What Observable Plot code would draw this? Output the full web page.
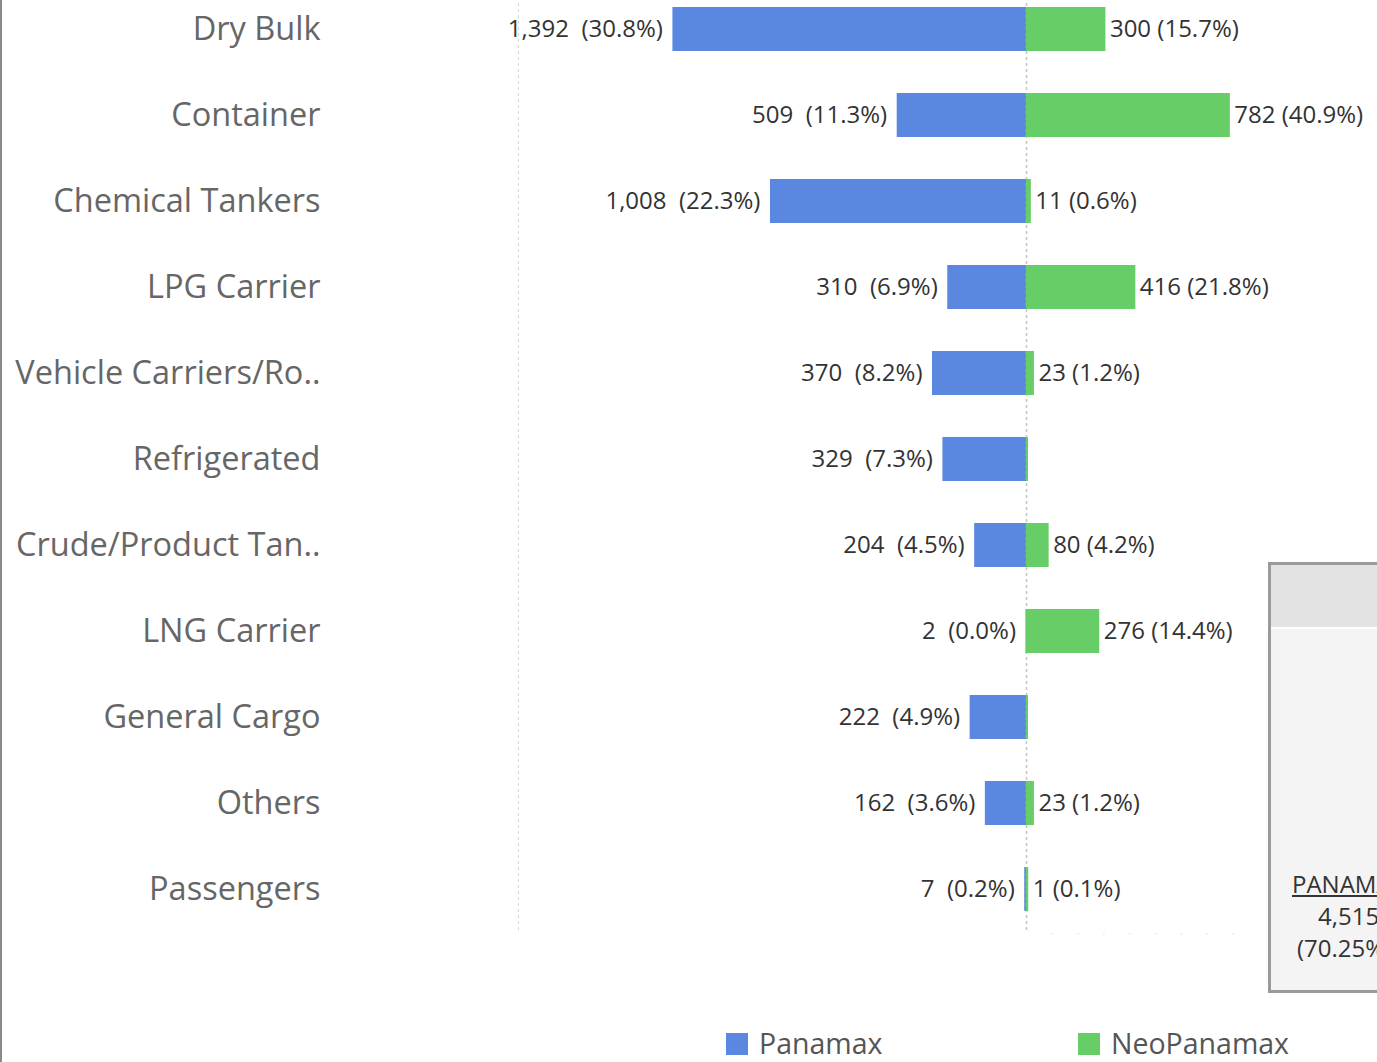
<!DOCTYPE html>
<html>
<head>
<meta charset="utf-8">
<script src="https://cdn.jsdelivr.net/npm/d3@7"></script>
<script src="https://cdn.jsdelivr.net/npm/@observablehq/plot@0.6"></script>
<style>
  html, body { margin: 0; padding: 0; background: #fff; }
  #wrap { position: relative; width: 1377px; height: 1062px; overflow: hidden; font-family: "Open Sans", sans-serif; }
  #left, #right { position: absolute; top: -15px; }
  #left { left: 0; width: 1026px; }
  #right { left: 1020px; }
  #border { position: absolute; left: 0; top: 0; width: 2px; height: 1062px; background: #8a8a8a; }
  #card { position: absolute; left: 1268px; top: 562px; width: 140px; height: 425px; border: 3px solid #9a9a9a; background: #f4f4f4; }
  #cardHead { position: absolute; left: 0; top: 0; right: 0; height: 62px; background: #e3e3e3; border-bottom: 2px solid #fff; }
  .ct { position: absolute; font-size: 24px; color: #333; white-space: nowrap; }
  #legend { position: absolute; top: 1031px; left: 0; width: 1377px; height: 31px; }
  .sw { position: absolute; top: 2px; width: 22px; height: 22px; }
  .lt { position: absolute; top: -7px; font-size: 28.5px; color: #555; white-space: nowrap; }
</style>
</head>
<body>
<div id="wrap">
  <div id="left"></div>
  <div id="right"></div>
  <div id="border"></div>
  <div id="card">
    <div id="cardHead"></div>
    <div class="ct" id="c1" style="left:21px; top:302px; text-decoration: underline;"></div>
    <div class="ct" id="c2" style="left:47px; top:334px;"></div>
    <div class="ct" id="c3" style="left:26px; top:366px;"></div>
  </div>
  <div id="legend"></div>
</div>
<script>
const categories = ["Dry Bulk","Container","Chemical Tankers","LPG Carrier","Vehicle Carriers/Ro..","Refrigerated","Crude/Product Tan..","LNG Carrier","General Cargo","Others","Passengers"];
const panamax = [1392, 509, 1008, 310, 370, 329, 204, 2, 222, 162, 7];
const panamaxPct = ["30.8%","11.3%","22.3%","6.9%","8.2%","7.3%","4.5%","0.0%","4.9%","3.6%","0.2%"];
const neoPanamax = [300, 782, 11, 416, 23, 0, 80, 276, 0, 23, 1];
const neoPanamaxPct = ["15.7%","40.9%","0.6%","21.8%","1.2%",null,"4.2%","14.4%",null,"1.2%","0.1%"];
const seriesNames = ["Panamax", "NeoPanamax"];
const colors = ["#5a87e0", "#67cd67"];
const totalLabel = "PANAMAX";
const totalValue = 4515;
const totalPct = "70.25%";

const fmt = d3.format(",");
const leftData = categories.map((c, i) => ({cat: c, v: panamax[i], label: `${fmt(panamax[i])}\u00a0\u00a0(${panamaxPct[i]})`}));
const rightData = categories.map((c, i) => ({cat: c, v: neoPanamax[i], label: neoPanamaxPct[i] == null ? null : `${fmt(neoPanamax[i])} (${neoPanamaxPct[i]})`}));

const H = 948;
const yOpts = {domain: categories, paddingInner: 0.49, paddingOuter: 0.245};
const font = "'Open Sans', sans-serif";

const gridPlot = Plot.plot({
  width: 1026, height: H + 10,
  marginLeft: 330, marginRight: 0, marginTop: 0, marginBottom: 10,
  style: {background: "transparent"},
  x: {domain: [2740, 0], axis: null},
  y: {...yOpts, axis: null},
  marks: [Plot.gridX([2000], {stroke: "#d6d6d6", strokeOpacity: 1, strokeDasharray: "3,3"})]
});
gridPlot.style.position = "absolute";
gridPlot.style.left = "0";
gridPlot.style.top = "0";
document.getElementById("left").appendChild(gridPlot);

const leftPlot = Plot.plot({
  width: 1026, height: H + 10,
  marginLeft: 330, marginRight: 0, marginTop: 0, marginBottom: 10,
  style: {fontFamily: font, background: "transparent", overflow: "visible"},
  x: {domain: [2740, 0], axis: null},
  y: {...yOpts, axis: null},
  marks: [
    Plot.barX(leftData, {x: "v", y: "cat", fill: colors[0]}),
    Plot.text(leftData, {x: "v", y: "cat", text: "label", textAnchor: "end", dx: -10, fontSize: 24, fill: "#333"}),
    Plot.axisY({tickSize: 0, tickPadding: 10, fontSize: 32.5, color: "#666", label: null})
  ]
});
leftPlot.style.position = "relative";
document.getElementById("left").appendChild(leftPlot);

const rightPlot = Plot.plot({
  width: 357, height: H + 10,
  marginLeft: 6, marginRight: 0, marginTop: 0, marginBottom: 10,
  style: {fontFamily: font, background: "transparent", overflow: "visible"},
  x: {domain: [0, 1360], axis: null},
  y: {...yOpts, axis: null},
  marks: [
    Plot.ruleX([0], {stroke: "#c4c4c4", strokeWidth: 1.5, strokeDasharray: "3,3"}),
    Plot.barX(rightData, {x: "v", y: "cat", fill: colors[1], insetRight: -2}),
    Plot.text(rightData.filter(d => d.label), {x: "v", y: "cat", text: "label", textAnchor: "start", dx: 6, fontSize: 24, fill: "#333"}),
    Plot.axisX({anchor: "bottom", ticks: d3.range(100, 900, 100), tickSize: 1.5, tickFormat: () => "", stroke: "#ddd", label: null})
  ]
});
document.getElementById("right").appendChild(rightPlot);

document.getElementById("c1").textContent = totalLabel;
document.getElementById("c2").textContent = fmt(totalValue);
document.getElementById("c3").textContent = `(${totalPct})`;

const legend = document.getElementById("legend");
const legendX = [726, 1078];
seriesNames.forEach((name, i) => {
  const sw = document.createElement("div");
  sw.className = "sw"; sw.style.left = legendX[i] + "px"; sw.style.background = colors[i];
  const t = document.createElement("div");
  t.className = "lt"; t.style.left = (legendX[i] + 33) + "px"; t.textContent = name;
  legend.appendChild(sw); legend.appendChild(t);
});
</script>
</body>
</html>
